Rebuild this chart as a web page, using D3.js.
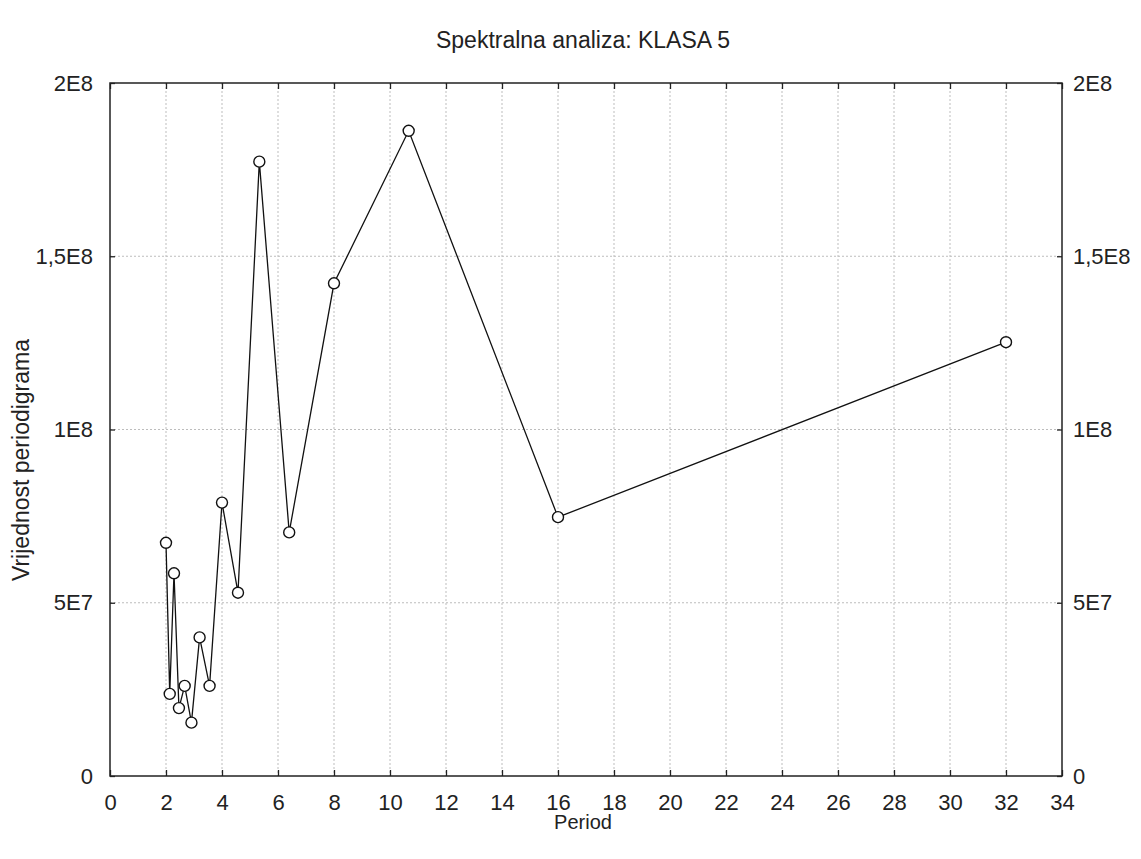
<!DOCTYPE html>
<html>
<head>
<meta charset="utf-8">
<script src="https://cdn.jsdelivr.net/npm/d3@7"></script>
<style>
  body { margin: 0; background: #fff; }
  svg { font-family: "Liberation Sans", Arial, sans-serif; }
  .grid line { stroke: #bdbdbd; stroke-dasharray: 2,2; }
  .axis path { display: none; }
  .axis line { stroke: #222; stroke-width: 1.3; }
  .axis text { fill: #222; font-size: 22px; }
</style>
</head>
<body>
<svg id="chart" width="1141" height="859"></svg>
<script>
// periodogram values
const periods = [2, 2.133, 2.286, 2.462, 2.667, 2.909, 3.2, 3.556, 4, 4.571, 5.333, 6.4, 8, 10.667, 16, 32];
const values = [6.73e7, 2.37e7, 5.85e7, 1.96e7, 2.6e7, 1.54e7, 4.0e7, 2.6e7, 7.89e7, 5.29e7, 1.773e8, 7.03e7, 1.422e8, 1.862e8, 7.47e7, 1.252e8];

const xTicks = d3.range(0, 35, 2);
const yTicks = [0, 5e7, 1e8, 1.5e8, 2e8];
const yTickLabels = ["0", "5E7", "1E8", "1,5E8", "2E8"];

const svg = d3.select("#chart");
const plotLeft = 110, plotRight = 1062, plotTop = 83, plotBottom = 776;

const x = d3.scaleLinear().domain([0, 34]).range([plotLeft, plotRight]);
const y = d3.scaleLinear().domain([0, 2e8]).range([plotBottom, plotTop]);

//Dotted grid lines, only between the frame edges
svg.append("g").attr("class", "grid")
    .selectAll("line")
    .data(xTicks.filter((d) => d > 0 && d < 34))
    .enter()
    .append("line")
    .attr("x1", (d) => x(d)).attr("x2", (d) => x(d))
    .attr("y1", plotTop).attr("y2", plotBottom);

svg.append("g").attr("class", "grid")
    .selectAll("line")
    .data(yTicks.filter((d) => d > 0 && d < 2e8))
    .enter()
    .append("line")
    .attr("x1", plotLeft).attr("x2", plotRight)
    .attr("y1", (d) => y(d)).attr("y2", (d) => y(d));

const yFormat = (d) => yTickLabels[yTicks.indexOf(d)];

//Axes with ticks pointing into the plot
svg.append("g").attr("class", "axis")
    .attr("transform", "translate(0," + plotBottom + ")")
    .call(d3.axisBottom(x).tickValues(xTicks).tickSize(-6).tickPadding(18).tickFormat(d3.format("d")));

svg.append("g").attr("class", "axis")
    .attr("transform", "translate(0," + plotTop + ")")
    .call(d3.axisTop(x).tickValues(xTicks).tickSize(-6).tickFormat(""));

svg.append("g").attr("class", "axis")
    .attr("transform", "translate(" + plotLeft + ",0)")
    .call(d3.axisLeft(y).tickValues(yTicks).tickSize(-5).tickPadding(17).tickFormat(yFormat));

svg.append("g").attr("class", "axis")
    .attr("transform", "translate(" + plotRight + ",0)")
    .call(d3.axisRight(y).tickValues(yTicks).tickSize(-5).tickPadding(11).tickFormat(yFormat));

svg.append("rect")
    .attr("x", plotLeft).attr("y", plotTop)
    .attr("width", plotRight - plotLeft).attr("height", plotBottom - plotTop)
    .attr("fill", "none").attr("stroke", "#222").attr("stroke-width", 1.5);

//Line and circle markers
const points = periods.map((p, i) => [p, values[i]]);

svg.append("path")
    .datum(points)
    .attr("fill", "none")
    .attr("stroke", "#111")
    .attr("stroke-width", 1.3)
    .attr("d", d3.line().x((d) => x(d[0])).y((d) => y(d[1])));

svg.append("g")
    .selectAll("circle")
    .data(points)
    .enter()
    .append("circle")
    .attr("cx", (d) => x(d[0]))
    .attr("cy", (d) => y(d[1]))
    .attr("r", 5.5)
    .attr("fill", "#fff")
    .attr("stroke", "#111")
    .attr("stroke-width", 1.4);

//Titles
svg.append("text")
    .attr("x", 583).attr("y", 48)
    .attr("text-anchor", "middle")
    .style("font-size", "23px").style("fill", "#222")
    .text("Spektralna analiza: KLASA 5");

svg.append("text")
    .attr("x", 583).attr("y", 829)
    .attr("text-anchor", "middle")
    .style("font-size", "20px").style("fill", "#222")
    .text("Period");

svg.append("text")
    .attr("transform", "translate(29,460) rotate(-90)")
    .attr("text-anchor", "middle")
    .style("font-size", "23px").style("fill", "#222")
    .text("Vrijednost periodigrama");
</script>
</body>
</html>
